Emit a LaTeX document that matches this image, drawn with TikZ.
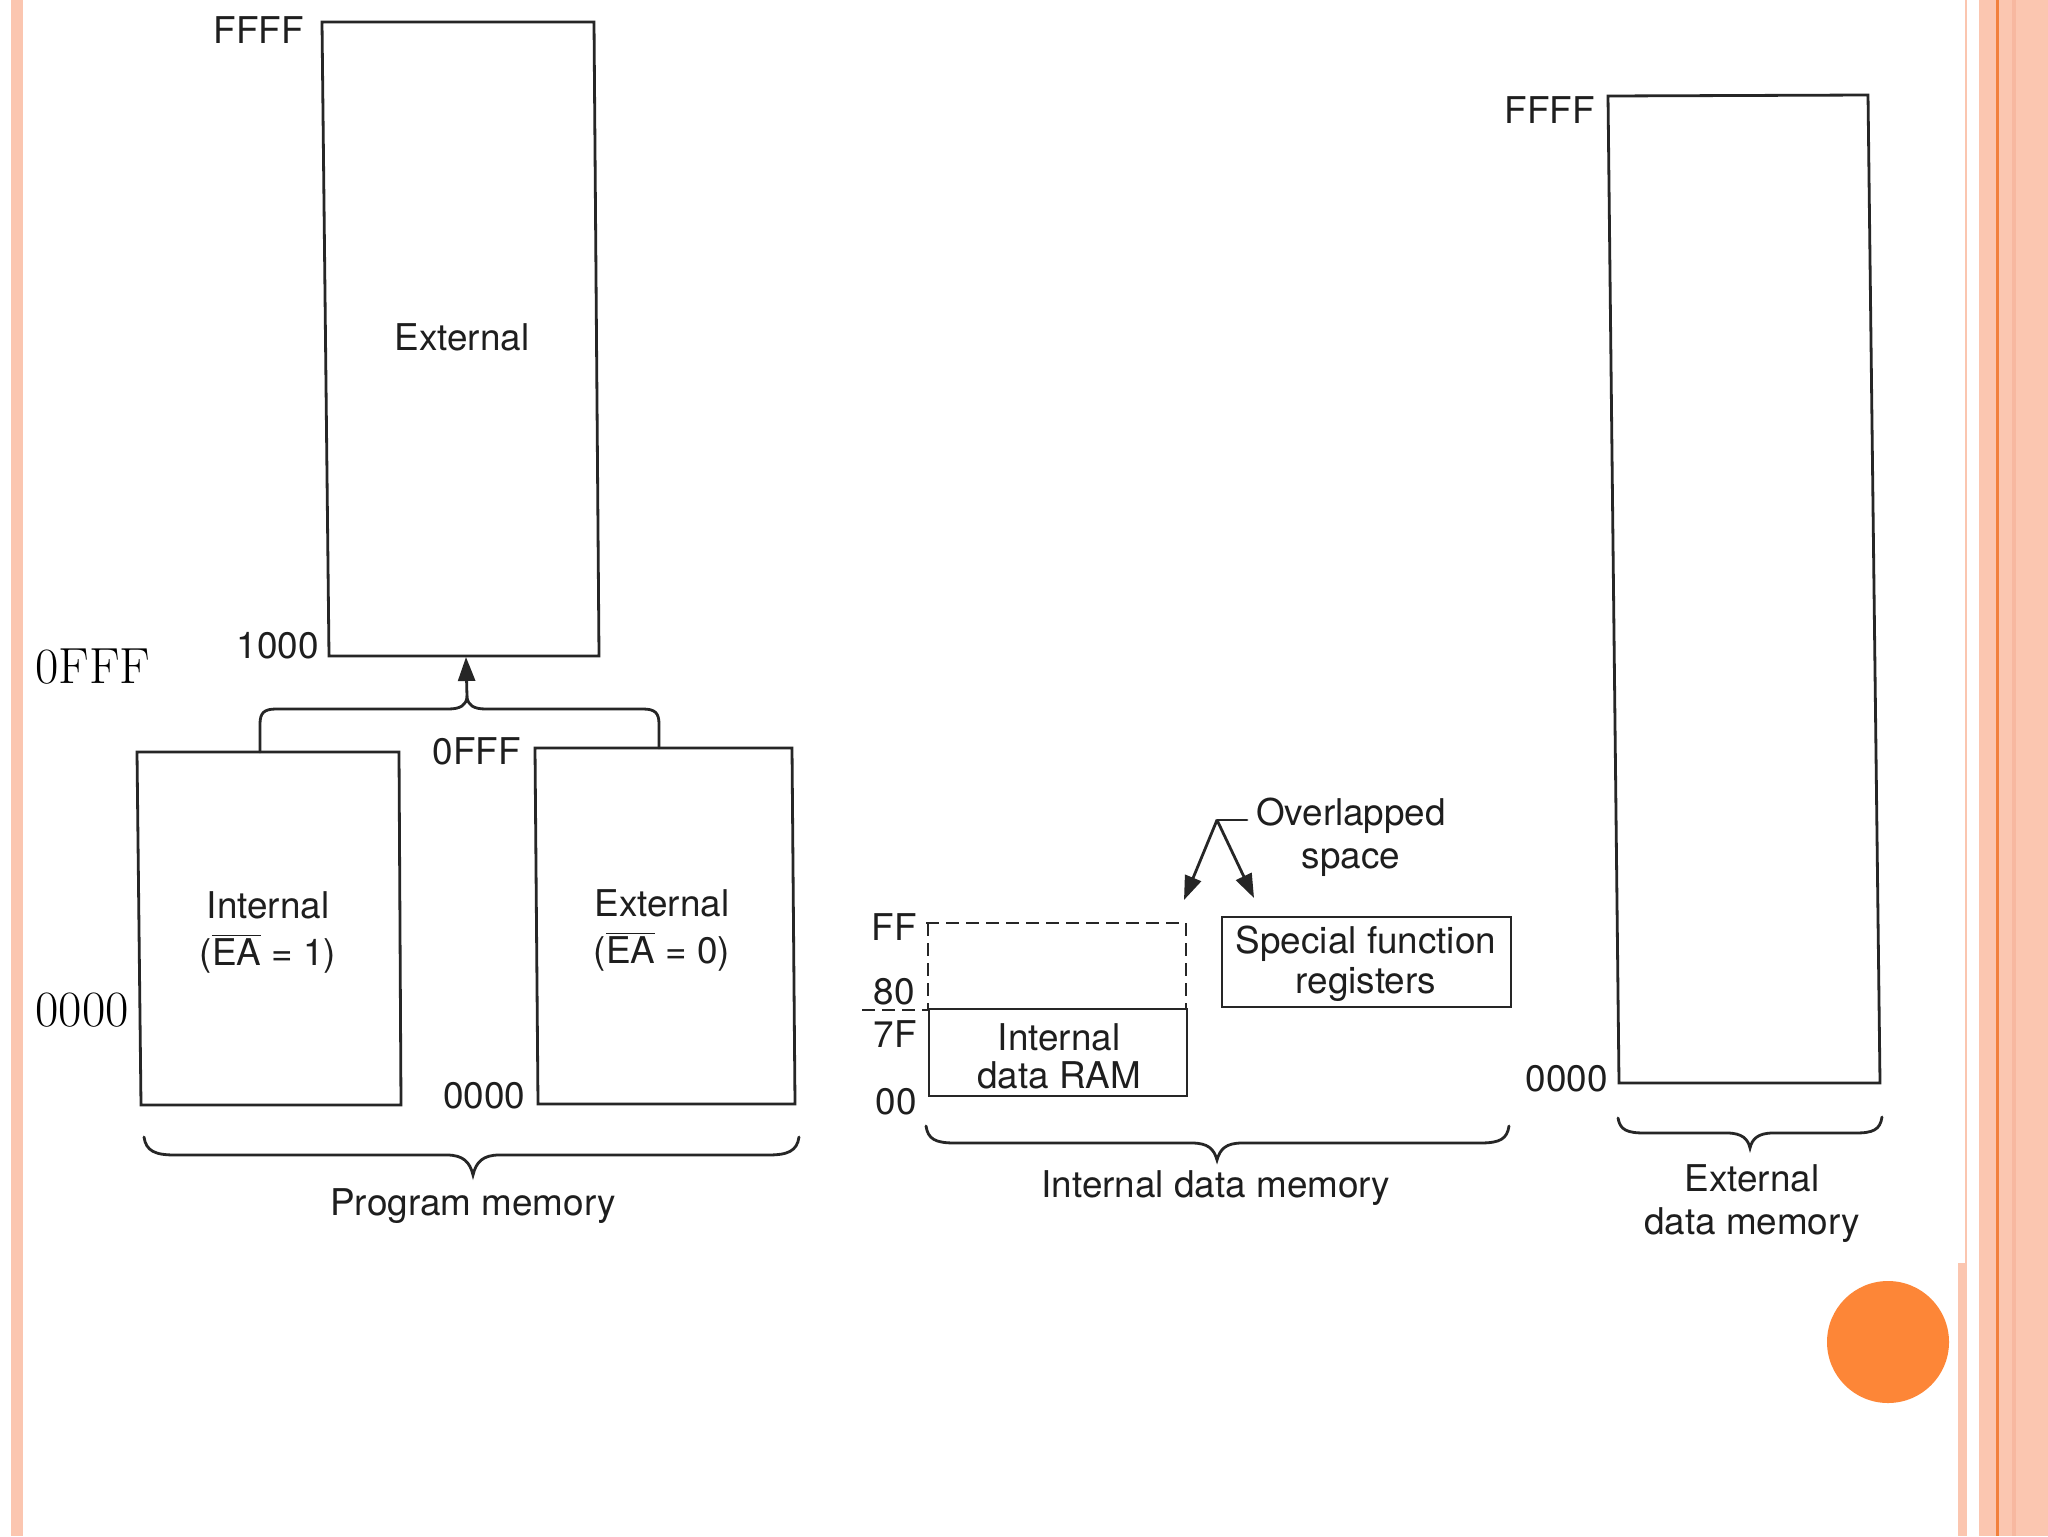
\documentclass[tikz,border=0pt]{standalone}
\usepackage{fontspec}
\setsansfont{TeX Gyre Heros}
\usetikzlibrary{arrows.meta}
\definecolor{peach}{RGB}{251,198,176}
\definecolor{peachdk}{RGB}{247,184,160}
\definecolor{orangeln}{RGB}{242,128,60}
\definecolor{dotc}{RGB}{253,134,55}
\definecolor{ink}{RGB}{30,30,30}
\definecolor{ln}{RGB}{38,38,38}
\begin{document}
\begin{tikzpicture}[x=0.5bp,y=-0.5bp,
  lbl/.style={font=\sffamily\fontsize{18.5}{22}\selectfont,text=ink,inner sep=0pt,anchor=base},
  lble/.style={lbl,anchor=base east},
  cmlbl/.style={font=\rmfamily\fontsize{25.5}{30}\selectfont,text=black,inner sep=0pt,anchor=base west},
  mbox/.style={draw=ln,line width=1.4bp,line join=miter},
  dsh/.style={draw=ln,line width=1.2bp,dash pattern=on 6.5bp off 3.5bp},
  arr/.style={draw=ln,line width=1.4bp,-{Triangle[length=12bp,width=8.5bp]}},
  brc/.style={draw=ln,line width=1.4bp,line cap=round}]

\useasboundingbox (0,0) rectangle (2048,1536);
\fill[white] (0,0) rectangle (2048,1536);

% slide decoration
\fill[peach] (11,0) rectangle (23,1536);
\fill[peach] (1958,1263) rectangle (1967,1536);
\fill[peach] (1965,0) rectangle (1967,1263);
\fill[peach] (1979,0) rectangle (2048,1536);
\fill[peachdk] (2012,0) rectangle (2016,1536);
\fill[orangeln] (1996,0) rectangle (1998.5,1536);
\node[circle,fill=dotc,minimum size=61bp,inner sep=0pt] (dot) at (1888,1342) {};

% ---------------- Program memory ----------------
\coordinate (A1) at (322,22);  \coordinate (A2) at (594,22);
\coordinate (A3) at (599,656); \coordinate (A4) at (329,656);
\draw[mbox] (A1)--(A2)--(A3)--(A4)--cycle;
\node[lbl] (Atxt) at (462,350) {External};
\node[lble] (ffffA) at (304,43) {FFFF};
\node[lble] (k1000) at (319,658) {1000};

\coordinate (B1) at (137,752); \coordinate (B2) at (399,752);
\coordinate (B3) at (401,1105); \coordinate (B4) at (141,1105);
\draw[mbox] (B1)--(B2)--(B3)--(B4)--cycle;
\node[lbl] (intB1) at (268,918) {Internal};
\node[lbl] (intB2) at (268,965) {($\overline{\mbox{EA}}$ = 1)};

\coordinate (C1) at (535,748); \coordinate (C2) at (792,748);
\coordinate (C3) at (795,1104); \coordinate (C4) at (538,1104);
\draw[mbox] (C1)--(C2)--(C3)--(C4)--cycle;
\node[lbl] (extC1) at (662,916) {External};
\node[lbl] (extC2) at (662,963) {($\overline{\mbox{EA}}$ = 0)};

\node[lbl] (k0fff) at (477,764) {0FFF};
\node[lbl] (k0000) at (484,1108) {0000};

% bracket joining both lower boxes, arrow up to the external block
\coordinate (Bleg) at (260,752);
\coordinate (Cleg) at (659,748);
\coordinate (cusp) at (467,697);
\coordinate (Abot) at (466,657);
\draw[brc] (Bleg) -- (260,724) .. controls (260,713) and (264,709) .. (276,709)
  -- (448,709) .. controls (461,709) and (466,705) .. (cusp)
  .. controls (468,705) and (473,709) .. (486,709)
  -- (643,709) .. controls (655,709) and (659,713) .. (659,724) -- (Cleg);
\draw[arr] (cusp) -- (Abot);

% brace
\draw[brc] (144,1137) .. controls (146,1151) and (155,1155) .. (175,1155)
  -- (447,1155) .. controls (463,1155) and (470,1162) .. (473,1175)
  .. controls (476,1162) and (483,1155) .. (499,1155)
  -- (768,1155) .. controls (788,1155) and (797,1151) .. (799,1137);
\node[lbl] (pm) at (473,1215) {Program memory};

% overlay serif labels
\node[cmlbl] (big0fff) at (35,683) {0FFF};
\node[cmlbl] (big0000) at (35,1026) {0000};

% ---------------- Internal data memory ----------------
\draw[dsh] (926,923) -- (1186,923) -- (1186,1009);
\draw[dsh] (928,923) -- (928,1009);
\draw[dsh] (862,1010) -- (929,1010);
\draw[mbox] (929,1009) rectangle (1187,1096);
\node[lbl] (ram1) at (1059,1050) {Internal};
\node[lbl] (ram2) at (1059,1088) {data RAM};
\node[lble] (kFF) at (917,940) {FF};
\node[lble] (k80) at (915,1004) {80};
\node[lble] (k7F) at (917,1047) {7F};
\node[lble] (k00) at (917,1114) {00};

\draw[mbox] (1222,917) rectangle (1511,1007);
\node[lbl] (sfr1) at (1366,953) {Special function};
\node[lbl] (sfr2) at (1366,993) {registers};

\node[lbl] (ov1) at (1351,825) {Overlapped};
\node[lbl] (ov2) at (1351,868) {space};
\coordinate (ovL) at (1247,820);
\coordinate (ovK) at (1217,820);
\coordinate (ovT1) at (1184,900);
\coordinate (ovT2) at (1254,898);
\draw[brc] (ovL) -- (ovK);
\draw[arr] (ovK) -- (ovT1);
\draw[arr] (ovK) -- (ovT2);

\draw[brc] (926,1126) .. controls (928,1139) and (935,1143) .. (955,1143)
  -- (1192,1143) .. controls (1208,1143) and (1214,1149) .. (1217,1160)
  .. controls (1220,1149) and (1226,1143) .. (1242,1143)
  -- (1480,1143) .. controls (1500,1143) and (1507,1139) .. (1509,1126);
\node[lbl] (idm) at (1216,1197) {Internal data memory};

% ---------------- External data memory ----------------
\coordinate (D1) at (1608,96);  \coordinate (D2) at (1868,95);
\coordinate (D3) at (1880,1083); \coordinate (D4) at (1619,1083);
\draw[mbox] (D1)--(D2)--(D3)--(D4)--cycle;
\node[lble] (ffffD) at (1595,123) {FFFF};
\node[lble] (k0000D) at (1608,1091) {0000};

\draw[brc] (1618,1118) .. controls (1620,1130) and (1627,1133) .. (1645,1133)
  -- (1727,1133) .. controls (1742,1133) and (1748,1139) .. (1750,1148)
  .. controls (1752,1139) and (1758,1133) .. (1773,1133)
  -- (1855,1133) .. controls (1873,1133) and (1880,1130) .. (1882,1117);
\node[lbl] (edm1) at (1752,1191) {External};
\node[lbl] (edm2) at (1752,1234) {data memory};
\end{tikzpicture}
\end{document}
